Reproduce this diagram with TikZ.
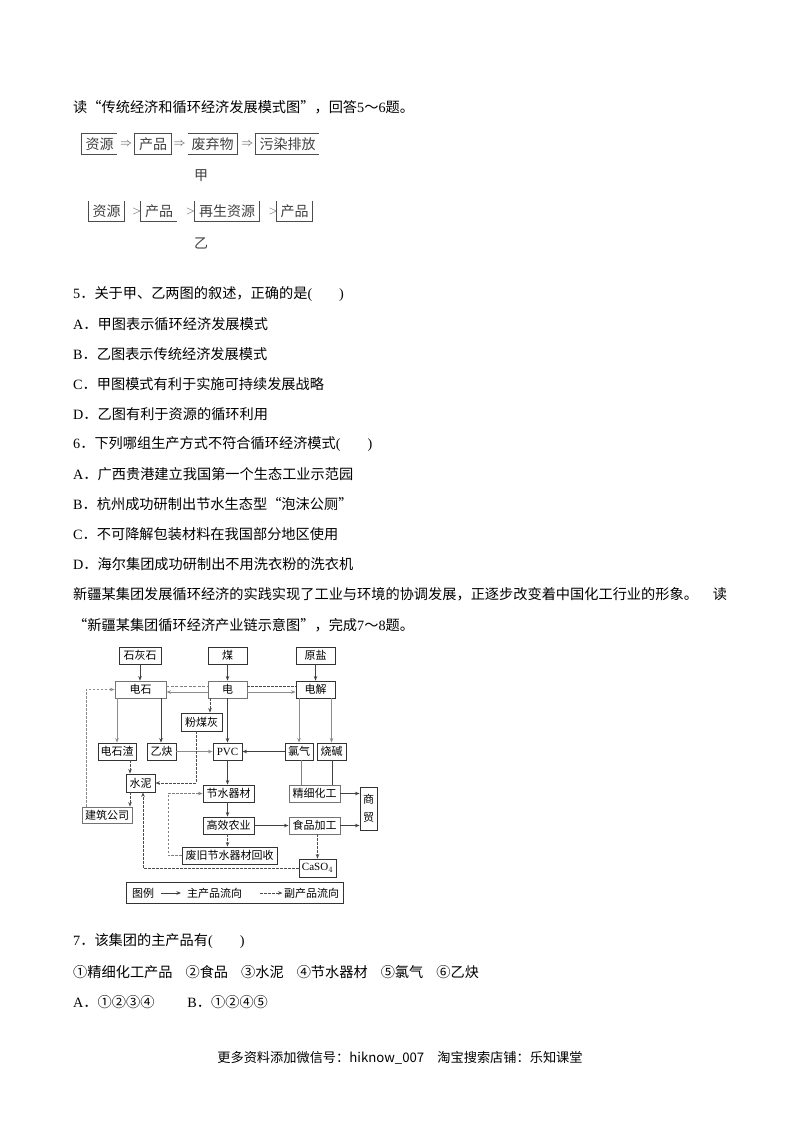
\documentclass[tikz,border=0pt]{standalone}
\usepackage{fontspec}
\usetikzlibrary{arrows.meta,calc}
\setmainfont{Noto Sans CJK SC}
\newfontfamily\lat{Liberation Serif}
\newcommand{\bxn}[7][tb]{\node[#1,minimum width=#5pt-#3pt,minimum height=#6pt-#4pt] (#2) at ({(#3+#5)/2},{(#4+#6)/2}) {#7};}
\tikzset{
 line/.style={anchor=west,inner sep=0pt,font=\fontsize{14.2}{16}\selectfont},
 tb/.style={draw=black!80,line width=0.9pt,inner sep=0pt,font=\fontsize{11}{12}\selectfont},
 open/.style={inner sep=0pt,font=\fontsize{14}{15}\selectfont,text=black!75},
 side/.style={draw=black!70,line width=0.8pt},
 sym/.style={inner sep=0pt,font=\fontsize{13}{14}\selectfont,text=black!70},
 flow/.style={draw=black!75,line width=0.8pt,-{Stealth[length=4.5pt,width=3.5pt]}},
 lflow/.style={flow,draw=black!45,line width=0.9pt},
 dflow/.style={flow,dashed,dash pattern=on 2.5pt off 1.5pt,draw=black!70},
 lflat/.style={draw=black!50,line width=0.9pt},
}
\begin{document}
\begin{tikzpicture}[x=1pt,y=-1pt]
\useasboundingbox[fill=white] (0,0) rectangle (800,1132);
% text lines
\node[line] (l1) at (73,107) {读“传统经济和循环经济发展模式图”，回答{\lat 5}～{\lat 6}题。};
\node[line] (q5) at (73,294) {{\lat 5}．关于甲、乙两图的叙述，正确的是{\lat (\hspace{27pt})}};
\node[line] (q5a) at (73,324) {{\lat A}．甲图表示循环经济发展模式};
\node[line] (q5b) at (73,354) {{\lat B}．乙图表示传统经济发展模式};
\node[line] (q5c) at (73,384) {{\lat C}．甲图模式有利于实施可持续发展战略};
\node[line] (q5d) at (73,414) {{\lat D}．乙图有利于资源的循环利用};
\node[line] (q6) at (73,444) {{\lat 6}．下列哪组生产方式不符合循环经济模式{\lat (\hspace{27pt})}};
\node[line] (q6a) at (73,474) {{\lat A}．广西贵港建立我国第一个生态工业示范园};
\node[line] (q6b) at (73,504) {{\lat B}．杭州成功研制出节水生态型“泡沫公厕”};
\node[line] (q6c) at (73,534) {{\lat C}．不可降解包装材料在我国部分地区使用};
\node[line] (q6d) at (73,564) {{\lat D}．海尔集团成功研制出不用洗衣粉的洗衣机};
\node[line] (p1) at (73,594) {\makebox[654pt][s]{新疆某集团发展循环经济的实践实现了工业与环境的协调发展，正逐步改变着中国化工行业的形象。\hfil 读}};
\node[line] (p2) at (73,625) {“新疆某集团循环经济产业链示意图”，完成{\lat 7}～{\lat 8}题。};
\node[line] (q7) at (73,941) {{\lat 7}．该集团的主产品有{\lat (\hspace{27pt})}};
\node[line] (q7o) at (73,972) {①精细化工产品\hspace{13pt}②食品\hspace{13pt}③水泥\hspace{13pt}④节水器材\hspace{13pt}⑤氯气\hspace{13pt}⑥乙炔};
\node[line] (q7a) at (73,1002) {{\lat A}．①②③④\hspace{33pt}{\lat B}．①②④⑤};
\node[inner sep=0pt,font=\fontsize{13.2}{15}\selectfont] (foot) at (400,1058) {更多资料添加微信号：hiknow\_007\hspace{1em}淘宝搜索店铺：乐知课堂};
% top diagram, row 1
\bxn[open]{a1}{82}{134}{117}{154}{资源}
\bxn[open]{a2}{135}{134}{171}{154}{产品}
\bxn[open]{a3}{188}{134}{237}{154}{废弃物}
\bxn[open]{a4}{256}{134}{319}{154}{污染排放}
\draw[side] (a1.north east)--(a1.north west)--(a1.south west)--(a1.south east);
\draw[side] (a2.north west) rectangle (a2.south east);
\draw[side] (a3.north west)--(a3.north east)--(a3.south east)--(a3.south west);
\draw[side] (a4.north east)--(a4.north west)--(a4.south west)--(a4.south east);
\node[sym] (s1) at ($(a1.east)!0.5!(a2.west)$) {$\Rightarrow$};
\node[sym] (s2) at ($(a2.east)!0.5!(a3.west)$) {$\Rightarrow$};
\node[sym] (s3) at ($(a3.east)!0.55!(a4.west)$) {$\Rightarrow$};
\node[open] (jia) at (201,176) {甲};
% row 2
\bxn[open]{b1}{89}{201}{124}{221}{资源}
\bxn[open]{b2}{141}{201}{177}{221}{产品}
\bxn[open]{b3}{195}{201}{259}{221}{再生资源}
\bxn[open]{b4}{277}{201}{312}{221}{产品}
\draw[side] (b1.north west)--(b1.south west)--(b1.south east)--(b1.north east);
\draw[side] (b2.north west)--(b2.south west)--(b2.south east);
\draw[side] (b3.north west)--(b3.south west)--(b3.south east)--(b3.north east);
\draw[side] (b4.north west)--(b4.south west)--(b4.south east)--(b4.north east);
\node[sym] (t1) at ($(b1.east)!0.75!(b2.west)$) {$>$};
\node[sym] (t2) at ($(b2.east)!0.75!(b3.west)$) {$>$};
\node[sym] (t3) at ($(b3.east)!0.8!(b4.west)$) {$>$};
\node[open] (yi) at (201,243) {乙};
% chain diagram
\bxn{shh}{119}{647}{161}{664}{石灰石}
\bxn{mei}{208}{647}{247}{664}{煤}
\bxn{yy}{296}{647}{335}{664}{原盐}
\bxn[tb,draw=black!55]{ds}{115}{681}{166}{698}{电石}
\bxn[tb,draw=black!55]{dian}{208}{681}{247}{698}{电}
\bxn{dj}{296}{681}{335}{698}{电解}
\bxn{fmh}{181}{713}{222}{731}{粉煤灰}
\bxn{dsz}{98}{743}{136}{760}{电石渣}
\bxn{yq}{147}{743}{176}{760}{乙炔}
\bxn{pvc}{213}{743}{242}{760}{\lat PVC}
\bxn{lq}{285}{743}{313}{760}{氯气}
\bxn{sj}{317}{743}{346}{760}{烧碱}
\bxn{sn}{126}{774}{155}{792}{水泥}
\bxn{jsqc}{203}{785}{254}{802}{节水器材}
\bxn[tb,draw=black!55]{jxhg}{289}{785}{340}{802}{精细化工}
\bxn[tb,align=center]{sm}{360}{787}{377}{830}{商\\[6pt]贸}
\bxn[tb,draw=black!55]{jz}{82}{807}{132}{823}{建筑公司}
\bxn{gx}{203}{817}{254}{834}{高效农业}
\bxn[tb,draw=black!55]{sp}{289}{817}{340}{834}{食品加工}
\bxn{fj}{182}{847}{277}{864}{废旧节水器材回收}
\bxn{caso}{299}{859}{336}{877}{\lat CaSO$_4$}
\coordinate (x161) at (161,0);
\draw[flow] (shh.south) -- (shh.south |- ds.north);
\draw[flow] (mei.south) -- (dian.north);
\draw[flow] (yy.south) -- (dj.north);
\draw[lflow] ([yshift=-2.5pt]dian.west) -- ([yshift=-2.5pt]ds.east);
\draw[draw=black!50,line width=0.8pt,dashed,dash pattern=on 3pt off 1.5pt] ([yshift=3pt]ds.east) -- ([yshift=3pt]dian.west);
\draw[dflow,-] ([yshift=3pt]dian.east) -- ([yshift=3pt]dj.west);
\draw[lflow] ([yshift=-2.5pt]dian.east) -- ([yshift=-2.5pt]dj.west);
\coordinate (xa) at (86,0);
\draw[flow,draw=black!45,dashed,dash pattern=on 2.5pt off 1.5pt] (jz.north -| xa) -- (ds.west -| xa) -- (ds.west);
\draw[lflow] (ds.south -| dsz.north) -- (dsz.north);
\draw[flow] (ds.south -| x161) -- (yq.north -| x161);
\coordinate (xb) at (210,0);
\draw[dflow] (dian.south -| xb) -- (fmh.north -| xb);
\draw[flow] (dian.south -| pvc.north) -- (pvc.north);
\coordinate (xi) at (299,0);
\draw[lflow] (dj.south -| xi) -- (lq.north -| xi);
\draw[lflow] (dj.south -| sj.north) -- (sj.north);
\draw[lflow] (yq.east) -- (pvc.west);
\draw[flow,line width=0.9pt] (lq.west) -- (pvc.east);
\coordinate (xc) at (130,0);
\draw[dflow] (dsz.south -| xc) -- (sn.north -| xc);
\coordinate (xd) at (196,0);
\draw[dflow] (fmh.south -| xd) -- (sn.east -| xd) -- (sn.east);
\draw[flow] (pvc.south) -- (pvc.south |- jsqc.north);
\coordinate (xe) at (301,0);
\draw[lflat] (lq.south -| xe) -- (jxhg.north -| xe);
\coordinate (xf) at (332,0);
\draw[draw=black!75,line width=0.8pt] (sj.south -| xf) -- (jxhg.north -| xf);
\draw[dflow] (sn.south -| xc) -- (jz.north -| xc);
\draw[flow] (pvc.south |- jsqc.south) -- (pvc.south |- gx.north);
\draw[flow] (gx.east) -- (sp.west);
\draw[dflow] (pvc.south |- gx.south) -- (pvc.south |- fj.north);
\draw[flow] (jxhg.east) -- (jxhg.east -| sm.west);
\draw[flow] (sp.east) -- (sp.east -| sm.west);
\draw[dflow] (sp.south -| caso.north) -- (caso.north);
\coordinate (xg) at (168,0);
\draw[flow,dashed,dash pattern=on 2.5pt off 1.5pt,draw=black!50] (fj.west) -- (fj.west -| xg) -- (jsqc.west -| xg) -- (jsqc.west);
\coordinate (xh) at (143,0);
\draw[dflow] (caso.west) -- (caso.west -| xh) -- (sn.south -| xh);
% legend
\bxn{leg}{126}{882}{343}{903}{}
\node[inner sep=0pt,font=\fontsize{11}{12}\selectfont] (lt) at (143,893) {图例};
\node[inner sep=0pt,font=\fontsize{11}{12}\selectfont,anchor=west] (lz) at (187,893) {主产品流向};
\node[inner sep=0pt,font=\fontsize{11}{12}\selectfont,anchor=west] (lf) at (284,893) {副产品流向};
\coordinate (lza) at (161,893); \coordinate (lfa) at (260,893);
\draw[flow] (lza) -- ([xshift=-6pt]lz.west);
\draw[dflow] (lfa) -- ([xshift=-1.5pt]lf.west);
\end{tikzpicture}
\end{document}
